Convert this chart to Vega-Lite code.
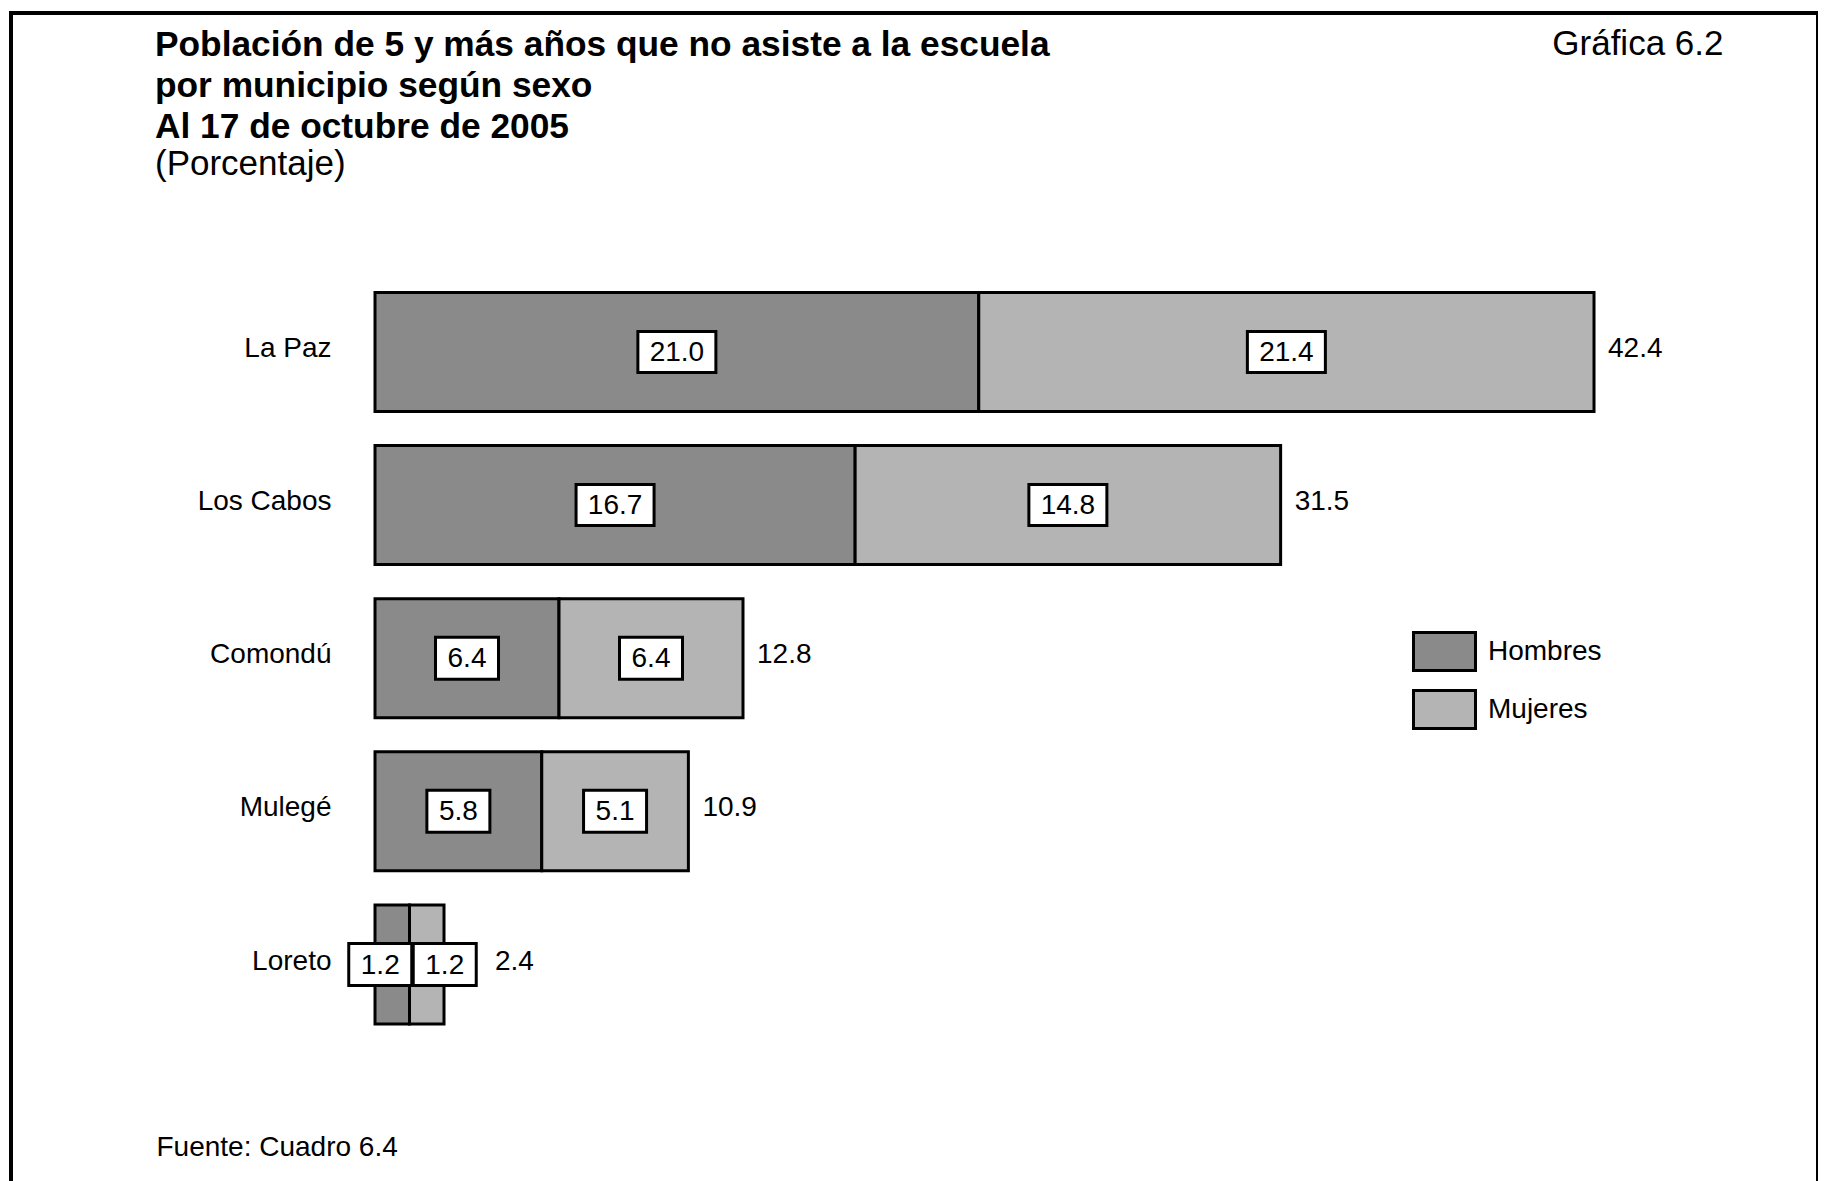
{
  "$schema": "https://vega.github.io/schema/vega-lite/v6.json",
  "width": 1807,
  "height": 1290,
  "autosize": {"type": "none"},
  "padding": {"left": 11, "top": 13, "right": 0, "bottom": 0},
  "background": "white",
  "config": {
    "font": "Liberation Sans",
    "view": {"stroke": "black", "strokeWidth": 4, "fill": "white"},
    "axis": {"grid": false}
  },
  "title": {
    "text": ["Población de 5 y más años que no asiste a la escuela", "por municipio según sexo", "Al 17 de octubre de 2005"],
    "subtitle": "(Porcentaje)",
    "anchor": "start",
    "frame": "group",
    "orient": "top",
    "dx": 144,
    "offset": -169,
    "font": "Liberation Sans",
    "fontSize": 35.3,
    "fontWeight": "bold",
    "lineHeight": 41,
    "color": "black",
    "subtitleFont": "Liberation Sans",
    "subtitleFontSize": 35,
    "subtitleFontWeight": "normal",
    "subtitleColor": "black",
    "subtitlePadding": 2
  },
  "data": {
    "values": [
      {"municipio": "La Paz", "sexo": "Hombres", "value": 21.0},
      {"municipio": "La Paz", "sexo": "Mujeres", "value": 21.4},
      {"municipio": "Los Cabos", "sexo": "Hombres", "value": 16.7},
      {"municipio": "Los Cabos", "sexo": "Mujeres", "value": 14.8},
      {"municipio": "Comondú", "sexo": "Hombres", "value": 6.4},
      {"municipio": "Comondú", "sexo": "Mujeres", "value": 6.4},
      {"municipio": "Mulegé", "sexo": "Hombres", "value": 5.8},
      {"municipio": "Mulegé", "sexo": "Mujeres", "value": 5.1},
      {"municipio": "Loreto", "sexo": "Hombres", "value": 1.2},
      {"municipio": "Loreto", "sexo": "Mujeres", "value": 1.2}
    ]
  },
  "resolve": {"axis": {"x": "independent"}},
  "layer": [
    {
      "mark": {"type": "bar", "stroke": "black", "strokeWidth": 3},
      "encoding": {
        "y": {
          "field": "municipio", "type": "nominal",
          "sort": ["La Paz", "Los Cabos", "Comondú", "Mulegé", "Loreto"],
          "scale": {"paddingInner": 0.223, "paddingOuter": 0, "range": [279.4, 1011]},
          "axis": {
            "title": null, "orient": "left", "offset": -320, "domain": false, "ticks": false, "tickSize": 0,
            "labelPadding": 0, "labelFontSize": 28, "labelColor": "black", "labelFont": "Liberation Sans",
            "labelOffset": -3, "labelAlign": "right", "labelBaseline": "middle"
          }
        },
        "x": {
          "field": "value", "type": "quantitative", "stack": "zero",
          "scale": {"domain": [-12.661, 50.191], "nice": false, "zero": false},
          "axis": {
            "orient": "top", "title": "Gráfica 6.2", "labels": false, "ticks": false, "domain": false, "grid": false,
            "titleX": 1712, "titleY": 30, "titleAlign": "right", "titleAnchor": null, "titleBaseline": "middle",
            "titleFontSize": 35, "titleFontWeight": "normal", "titleFont": "Liberation Sans", "titleColor": "black"
          }
        },
        "order": {"field": "sexo", "type": "nominal", "sort": "ascending"},
        "fill": {
          "field": "sexo", "type": "nominal",
          "scale": {"domain": ["Hombres", "Mujeres"], "range": ["#8a8a8a", "#b4b4b4"]},
          "legend": {
            "title": null, "orient": "none", "legendX": 1401, "legendY": 606,
            "symbolType": "M-1,-0.613H1V0.613H-1Z", "symbolSize": 3844,
            "symbolStrokeColor": "black", "symbolStrokeWidth": 3, "symbolOpacity": 1,
            "labelFontSize": 28, "labelFont": "Liberation Sans", "labelColor": "black",
            "labelOffset": 11, "rowPadding": -6, "padding": 0
          }
        }
      }
    },
    {
      "mark": {"type": "point", "filled": true, "fill": "white", "stroke": "black", "strokeWidth": 3, "opacity": 1},
      "encoding": {
        "y": {"field": "municipio", "type": "nominal", "sort": ["La Paz", "Los Cabos", "Comondú", "Mulegé", "Loreto"]},
        "x": {"field": "value", "type": "quantitative", "stack": "zero", "bandPosition": 0.5,
          "scale": {"domain": [-12.661, 50.191], "nice": false, "zero": false}, "axis": null},
        "detail": {"field": "sexo", "type": "nominal"},
        "order": {"field": "sexo", "type": "nominal", "sort": "ascending"},
        "shape": {
          "condition": [
            {"test": "datum.value >= 10", "value": "M-1,-0.526H1V0.526H-1Z"},
            {"test": "datum.municipio === 'Loreto' && datum.sexo === 'Hombres'", "value": "M-1.381,-0.667H0.619V0.667H-1.381Z"},
            {"test": "datum.municipio === 'Loreto' && datum.sexo === 'Mujeres'", "value": "M-0.429,-0.667H1.571V0.667H-0.429Z"}
          ],
          "value": "M-1,-0.667H1V0.667H-1Z"
        },
        "size": {"condition": {"test": "datum.value >= 10", "value": 6084}, "value": 3969}
      }
    },
    {
      "mark": {"type": "text", "fontSize": 28, "font": "Liberation Sans", "color": "black", "align": "center", "baseline": "middle", "dy": 1,
        "dx": {"expr": "datum.municipio === 'Loreto' ? (datum.sexo === 'Hombres' ? -12 : 18) : 0"}},
      "encoding": {
        "y": {"field": "municipio", "type": "nominal", "sort": ["La Paz", "Los Cabos", "Comondú", "Mulegé", "Loreto"]},
        "x": {"field": "value", "type": "quantitative", "stack": "zero", "bandPosition": 0.5,
          "scale": {"domain": [-12.661, 50.191], "nice": false, "zero": false}, "axis": null},
        "detail": {"field": "sexo", "type": "nominal"},
        "order": {"field": "sexo", "type": "nominal", "sort": "ascending"},
        "text": {"field": "value", "type": "quantitative", "format": ".1f"}
      }
    },
    {
      "mark": {"type": "text", "fontSize": 28, "font": "Liberation Sans", "color": "black", "align": "left", "baseline": "middle", "dy": -3,
        "dx": {"expr": "datum.municipio === 'Loreto' ? 51 : 14"}},
      "encoding": {
        "y": {"field": "municipio", "type": "nominal", "sort": ["La Paz", "Los Cabos", "Comondú", "Mulegé", "Loreto"]},
        "x": {"aggregate": "sum", "field": "value", "type": "quantitative",
          "scale": {"domain": [-12.661, 50.191], "nice": false, "zero": false},
          "axis": {
            "orient": "bottom", "title": "Fuente: Cuadro 6.4", "labels": false, "ticks": false, "domain": false, "grid": false,
            "titleX": 145, "titleY": -156, "titleAlign": "left", "titleAnchor": null, "titleBaseline": "middle",
            "titleFontSize": 28, "titleFontWeight": "normal", "titleFont": "Liberation Sans", "titleColor": "black"
          }
        },
        "text": {"aggregate": "sum", "field": "value", "type": "quantitative", "format": ".1f"}
      }
    }
  ]
}
